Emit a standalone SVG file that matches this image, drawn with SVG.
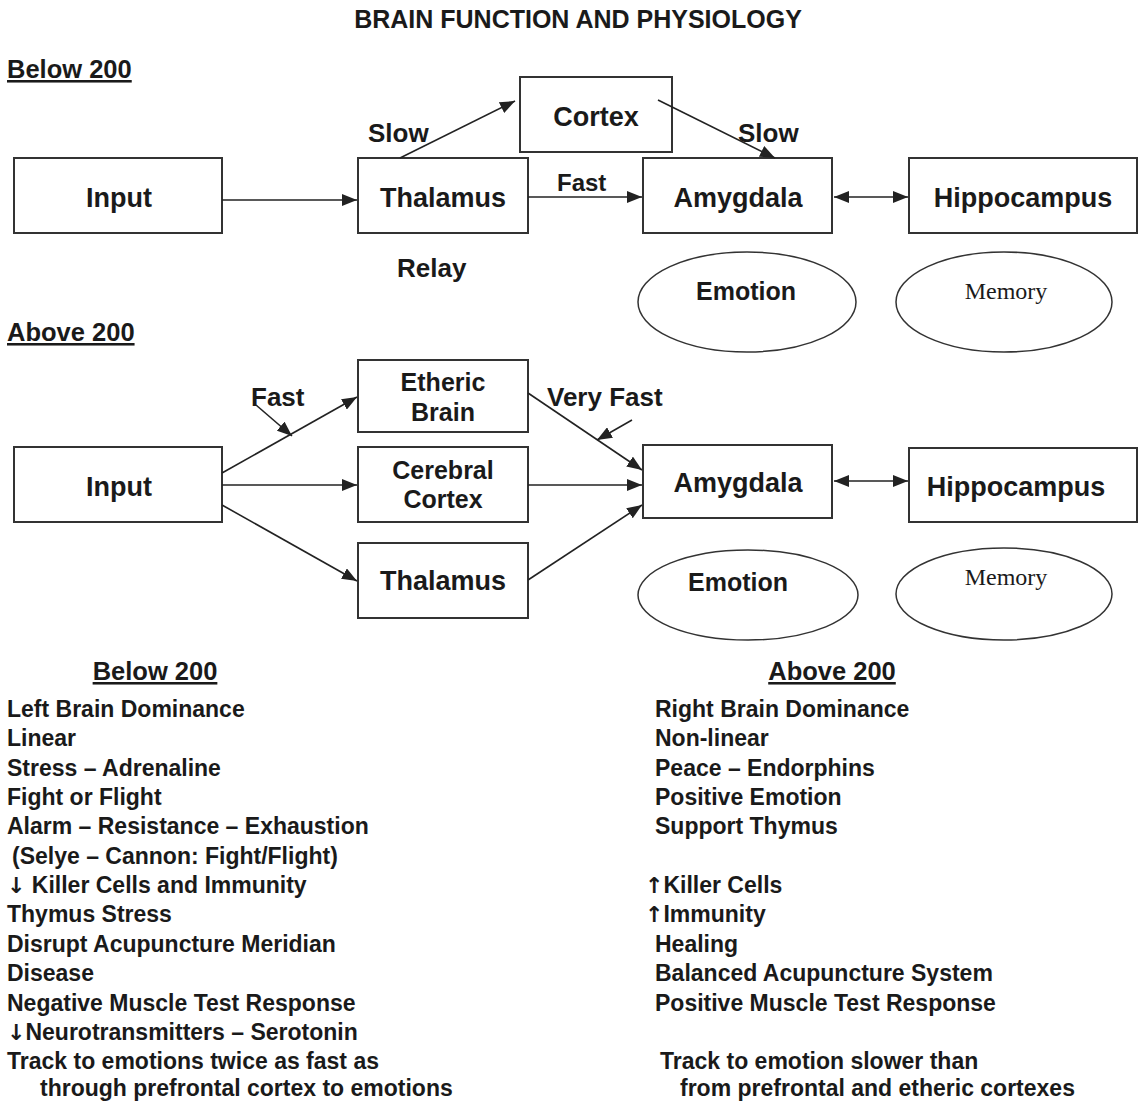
<svg xmlns="http://www.w3.org/2000/svg" width="1141" height="1103" viewBox="0 0 1141 1103">
<style>
text{font-family:"Liberation Sans",Arial,sans-serif;font-weight:bold;fill:#1a1a1a}
.box{fill:#fff;stroke:#333;stroke-width:2}
.ell{fill:#fff;stroke:#333;stroke-width:1.5}
.lbl{font-size:27px;text-anchor:middle}
.lbl2{font-size:25px;text-anchor:middle}
.ser{font-family:"Liberation Serif","Times New Roman",serif;font-weight:normal;font-size:24px;text-anchor:middle}
.cl{font-size:26px}
.hd{font-size:25.5px;text-decoration:underline}
.li{font-size:23px}
.ar{font-family:"DejaVu Sans",sans-serif;font-weight:bold;font-size:22px}
.con line{stroke:#222;stroke-width:1.6;fill:none}
</style>
<defs>
<marker id="ah" viewBox="0 0 15 12" refX="15" refY="6" markerWidth="15" markerHeight="12" markerUnits="userSpaceOnUse" orient="auto-start-reverse">
<path d="M0,0 L15,6 L0,12 Z" fill="#222"/>
</marker>
</defs>
<rect width="1141" height="1103" fill="#fff"/>
<text x="578" y="28" text-anchor="middle" font-size="25">BRAIN FUNCTION AND PHYSIOLOGY</text>
<text class="hd" x="7" y="78">Below 200</text>

<g id="t-input"><rect class="box" x="14" y="158" width="208" height="75"/><text class="lbl" x="119" y="207">Input</text></g>
<g id="t-thalamus"><rect class="box" x="358" y="158" width="170" height="75"/><text class="lbl" x="443" y="207">Thalamus</text></g>
<g id="t-cortex"><rect class="box" x="520" y="77" width="152" height="75"/><text class="lbl" x="596" y="126">Cortex</text></g>
<g id="t-amygdala"><rect class="box" x="643" y="158" width="189" height="75"/><text class="lbl" x="738" y="207">Amygdala</text></g>
<g id="t-hippocampus"><rect class="box" x="909" y="158" width="228" height="75"/><text class="lbl" x="1023" y="207">Hippocampus</text></g>
<g id="t-emotion"><ellipse class="ell" cx="747" cy="302" rx="109" ry="50"/><text class="lbl2" x="746" y="300">Emotion</text></g>
<g id="t-memory"><ellipse class="ell" cx="1004" cy="302" rx="108" ry="50"/><text class="ser" x="1006" y="299">Memory</text></g>

<g id="t-connectors" class="con">
<line x1="222" y1="200" x2="357" y2="200" marker-end="url(#ah)"/>
<line x1="528" y1="197" x2="642" y2="197" marker-end="url(#ah)"/>
<line x1="400" y1="158" x2="515" y2="101" marker-end="url(#ah)"/>
<line x1="658" y1="100" x2="775" y2="158" marker-end="url(#ah)"/>
<line x1="834" y1="197" x2="908" y2="197" marker-start="url(#ah)" marker-end="url(#ah)"/>
</g>
<text class="cl" x="368" y="142">Slow</text>
<text x="557" y="191" font-size="24">Fast</text>
<text class="cl" x="738" y="142">Slow</text>
<text class="cl" x="397" y="277">Relay</text>

<text class="hd" x="7" y="341">Above 200</text>

<g id="m-input"><rect class="box" x="14" y="447" width="208" height="75"/><text class="lbl" x="119" y="496">Input</text></g>
<g id="m-etheric"><rect class="box" x="358" y="360" width="170" height="72"/><text class="lbl2" x="443" y="391">Etheric</text><text class="lbl2" x="443" y="421">Brain</text></g>
<g id="m-cerebral"><rect class="box" x="358" y="447" width="170" height="75"/><text class="lbl2" x="443" y="479">Cerebral</text><text class="lbl2" x="443" y="508">Cortex</text></g>
<g id="m-thalamus"><rect class="box" x="358" y="543" width="170" height="75"/><text class="lbl" x="443" y="590">Thalamus</text></g>
<g id="m-amygdala"><rect class="box" x="643" y="445" width="189" height="73"/><text class="lbl" x="738" y="492">Amygdala</text></g>
<g id="m-hippocampus"><rect class="box" x="909" y="448" width="228" height="74"/><text class="lbl" x="1016" y="496">Hippocampus</text></g>
<g id="m-emotion"><ellipse class="ell" cx="748" cy="595" rx="110" ry="45"/><text class="lbl2" x="738" y="591">Emotion</text></g>
<g id="m-memory"><ellipse class="ell" cx="1004" cy="594" rx="108" ry="46"/><text class="ser" x="1006" y="585">Memory</text></g>

<g id="m-connectors" class="con">
<line x1="222" y1="473" x2="357" y2="397" marker-end="url(#ah)"/>
<line x1="222" y1="485" x2="357" y2="485" marker-end="url(#ah)"/>
<line x1="222" y1="505" x2="357" y2="581" marker-end="url(#ah)"/>
<line x1="528" y1="393" x2="642" y2="470" marker-end="url(#ah)"/>
<line x1="528" y1="485" x2="642" y2="485" marker-end="url(#ah)"/>
<line x1="528" y1="580" x2="642" y2="505" marker-end="url(#ah)"/>
<line x1="834" y1="481" x2="908" y2="481" marker-start="url(#ah)" marker-end="url(#ah)"/>
<line x1="256" y1="405" x2="292" y2="436" marker-end="url(#ah)"/>
<line x1="632" y1="420" x2="597" y2="440" marker-end="url(#ah)"/>
</g>
<text class="cl" x="251" y="406">Fast</text>
<text class="cl" x="547" y="406">Very Fast</text>

<text class="hd" x="155" y="680" text-anchor="middle">Below 200</text>
<text class="hd" x="832" y="680" text-anchor="middle">Above 200</text>

<g>
<text class="li" x="7" y="717">Left Brain Dominance</text>
<text class="li" x="7" y="746">Linear</text>
<text class="li" x="7" y="776">Stress – Adrenaline</text>
<text class="li" x="7" y="805">Fight or Flight</text>
<text class="li" x="7" y="834">Alarm – Resistance – Exhaustion</text>
<text class="li" x="12" y="864">(Selye – Cannon: Fight/Flight)</text>
<text class="li" x="7" y="893"><tspan class="ar">↓</tspan> Killer Cells and Immunity</text>
<text class="li" x="7" y="922">Thymus Stress</text>
<text class="li" x="7" y="952">Disrupt Acupuncture Meridian</text>
<text class="li" x="7" y="981">Disease</text>
<text class="li" x="7" y="1011">Negative Muscle Test Response</text>
<text class="li" x="7" y="1040"><tspan class="ar">↓</tspan>Neurotransmitters – Serotonin</text>
<text class="li" x="7" y="1069">Track to emotions twice as fast as</text>
<text class="li" x="40" y="1096">through prefrontal cortex to emotions</text>

<text class="li" x="655" y="717">Right Brain Dominance</text>
<text class="li" x="655" y="746">Non-linear</text>
<text class="li" x="655" y="776">Peace – Endorphins</text>
<text class="li" x="655" y="805">Positive Emotion</text>
<text class="li" x="655" y="834">Support Thymus</text>
<text class="li" x="645" y="893"><tspan class="ar">↑</tspan>Killer Cells</text>
<text class="li" x="645" y="922"><tspan class="ar">↑</tspan>Immunity</text>
<text class="li" x="655" y="952">Healing</text>
<text class="li" x="655" y="981">Balanced Acupuncture System</text>
<text class="li" x="655" y="1011">Positive Muscle Test Response</text>
<text class="li" x="660" y="1069">Track to emotion slower than</text>
<text class="li" x="680" y="1096">from prefrontal and etheric cortexes</text>
</g>
</svg>
